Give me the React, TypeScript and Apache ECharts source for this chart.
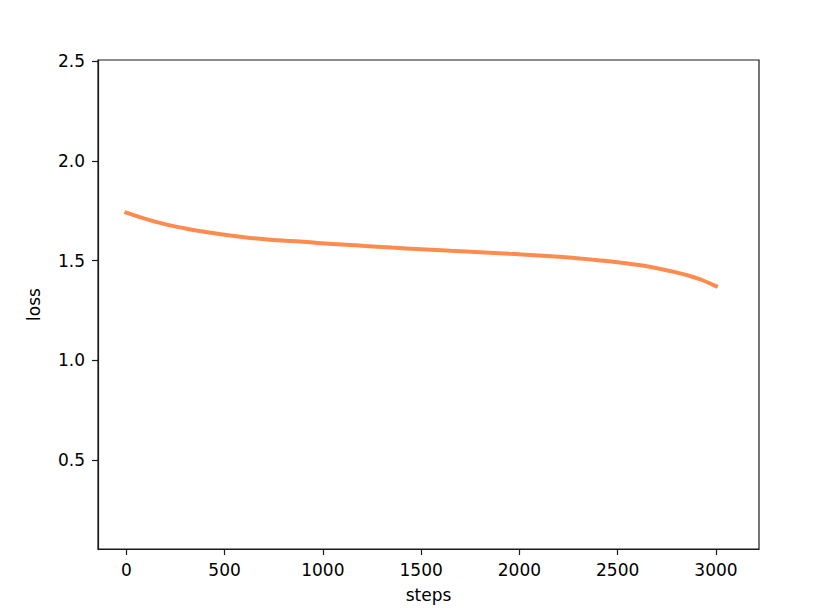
import React, { useEffect, useRef } from "react";
import * as echarts from "echarts";

const steps = [0, 150, 300, 450, 600, 750, 900, 1050, 1200, 1350, 1500, 1650, 1800, 1950, 2100, 2250, 2400, 2550, 2700, 2850, 2925, 3000];
const loss = [1.740, 1.694, 1.661, 1.637, 1.617, 1.603, 1.594, 1.583, 1.574, 1.565, 1.557, 1.549, 1.542, 1.534, 1.526, 1.515, 1.502, 1.485, 1.462, 1.428, 1.404, 1.372];
const xTicks = [0, 500, 1000, 1500, 2000, 2500, 3000];
const yTicks = [0.5, 1.0, 1.5, 2.0, 2.5];

export default function App() {
  const ref = useRef<HTMLDivElement>(null);
  useEffect(() => {
    if (!ref.current) return;
    const chart = echarts.init(ref.current, undefined, { renderer: "svg" });
    const font = "DejaVu Sans";
    const axisColor = "#1a1a1a";
    chart.setOption({
      animation: false,
      backgroundColor: "#ffffff",
      grid: {
        left: 98,
        right: 56,
        top: 60,
        bottom: 54,
        show: true,
        borderColor: axisColor,
        borderWidth: 1.2,
        backgroundColor: "transparent",
      },
      xAxis: {
        type: "value",
        min: -144,
        max: 3219,
        name: "steps",
        nameLocation: "middle",
        nameGap: 37,
        nameTextStyle: { fontFamily: font, fontSize: 17, color: "#000" },
        axisLine: { show: true, onZero: false, lineStyle: { color: axisColor, width: 1.2 } },
        splitLine: { show: false },
        axisTick: { show: true, inside: false, length: 6, customValues: xTicks, lineStyle: { color: axisColor, width: 1.2 } },
        axisLabel: {
          customValues: xTicks,
          margin: 12,
          fontFamily: font,
          fontSize: 17,
          color: "#000",
          formatter: (v: number) => String(v),
        },
      },
      yAxis: {
        type: "value",
        min: 0.055,
        max: 2.505,
        name: "loss",
        nameLocation: "middle",
        nameGap: 56,
        nameRotate: 90,
        nameTextStyle: { fontFamily: font, fontSize: 17, color: "#000" },
        axisLine: { show: true, onZero: false, lineStyle: { color: axisColor, width: 1.2 } },
        splitLine: { show: false },
        axisTick: { show: true, inside: false, length: 6, customValues: yTicks, lineStyle: { color: axisColor, width: 1.2 } },
        axisLabel: {
          customValues: yTicks,
          margin: 13,
          fontFamily: font,
          fontSize: 17,
          color: "#000",
          formatter: (v: number) => v.toFixed(1),
        },
      },
      series: [
        {
          type: "line",
          data: steps.map((s, i) => [s, loss[i]]),
          smooth: true,
          showSymbol: false,
          lineStyle: { color: "#ff8b4f", width: 4, cap: "square" },
        },
      ],
    });
    return () => chart.dispose();
  }, []);
  return <div ref={ref} style={{ width: 815, height: 608, position: "absolute", left: 0, top: 0 }} />;
}
